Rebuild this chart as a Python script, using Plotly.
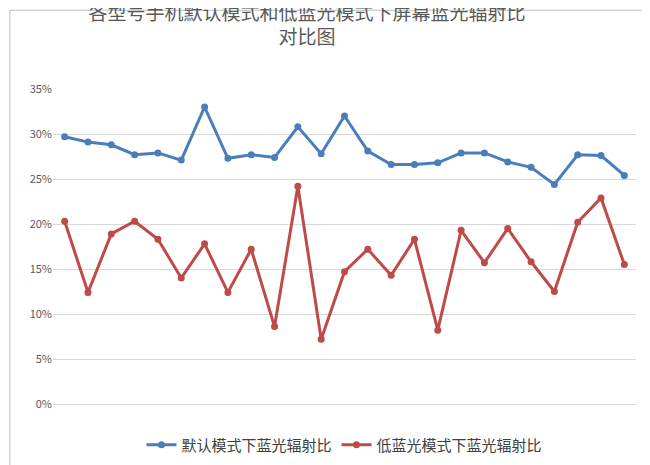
import plotly.graph_objects as go

cats = list(range(1, 26))
default_mode = [29.7,29.1,28.8,27.7,27.9,27.1,33.0,27.3,27.7,27.4,30.8,27.8,32.0,28.1,26.6,26.6,26.8,27.9,27.9,26.9,26.3,24.4,27.7,27.6,25.4]
low_blue = [20.3,12.4,18.9,20.3,18.3,14.0,17.8,12.4,17.2,8.6,24.2,7.2,14.7,17.2,14.3,18.3,8.2,19.3,15.7,19.5,15.8,12.5,20.2,22.9,15.5]
names = ["默认模式下蓝光辐射比", "低蓝光模式下蓝光辐射比"]
colors = ["#4a7ebb", "#be4b48"]
yticks = [0, 5, 10, 15, 20, 25, 30, 35]

fig = go.Figure()
for vals, n, c in zip([default_mode, low_blue], names, colors):
    fig.add_trace(go.Scatter(x=cats, y=[v/100 for v in vals], name=n, mode="lines+markers",
                             line=dict(color=c, width=3), marker=dict(color=c, size=7)))

fig.update_layout(
    width=650, height=465, paper_bgcolor="white", plot_bgcolor="white",
    margin=dict(l=45, r=22, t=81, b=69, autoexpand=False),
    font=dict(family="Noto Sans CJK SC", color="#595959"),
    title=dict(text="各型号手机默认模式和低蓝光模式下屏幕蓝光辐射比<br>对比图", x=0.46, xanchor="center",
               y=0.975, yanchor="top", automargin=False, font=dict(size=19, color="#595959")),
    xaxis=dict(range=[0.5, 25.5], showticklabels=False, showgrid=False, zeroline=False,
               showline=True, linecolor="#d9d9d9"),
    yaxis=dict(range=[0, 0.35], tickvals=[t/100 for t in yticks], ticktext=[f"{t}%" for t in yticks],
               tickfont=dict(size=11, color="#595959"), gridcolor="#d9d9d9", zeroline=False),
    legend=dict(orientation="h", x=0.5, xanchor="center", y=-0.13, yanchor="middle",
                font=dict(size=15, color="#404040")),
    showlegend=True,
    shapes=[dict(type="rect", xref="paper", yref="paper", x0=-0.074, x1=1.034, y0=-0.213, y1=1.25,
                 line=dict(color="#bfbfbf", width=1))],
)
fig.write_html("out.html")
